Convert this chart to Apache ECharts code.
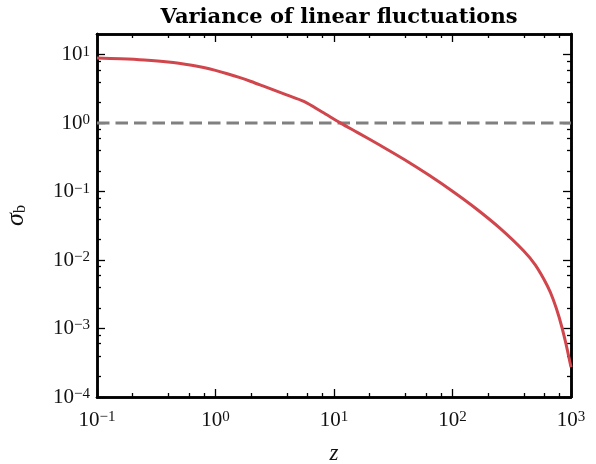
<!DOCTYPE html>
<html>
<head>
<meta charset="utf-8">
<script src="https://cdn.jsdelivr.net/npm/echarts@6/dist/echarts.min.js"></script>
<style>html,body{margin:0;padding:0;background:#fff;}#c{width:596px;height:464px;}</style>
</head>
<body>
<div id="c"></div>
<script>
// ---- data ----
var zValues = [0.1, 0.158, 0.251, 0.398, 0.631, 0.794, 1.0, 1.259, 1.585, 1.995, 2.512, 3.162, 3.981, 5.57, 7.94, 11.4, 15.85, 25.1, 39.8, 63.1, 100, 158.5, 251, 398, 501, 631, 708, 794, 891, 1000];
var sigmaValues = [8.91, 8.69, 8.34, 7.80, 7.00, 6.49, 5.89, 5.26, 4.65, 4.05, 3.49, 3.00, 2.58, 2.07, 1.452, 1.0, 0.726, 0.462, 0.289, 0.174, 0.101, 0.0561, 0.0292, 0.01365, 0.00841, 0.00422, 0.00266, 0.00146, 0.000684, 0.000272];
var refZ = [0.1, 1000];
var refSigma = [1, 1];
var xMajorTicks = [0.1, 1, 10, 100, 1000];
var yMajorTicks = [1e-4, 1e-3, 1e-2, 1e-1, 1, 10];
var minorMultipliers = [2, 4, 6, 8];
var titleText = 'Variance of linear fluctuations';

var X_MIN = 0.1, X_MAX = 1000, Y_MIN = 1e-4, Y_MAX = 20;

function minorTicks(majors, lo, hi) {
  var out = [];
  majors.forEach(function (m) {
    minorMultipliers.forEach(function (k) {
      var v = m * k;
      if (v > lo && v < hi) out.push(v);
    });
  });
  return out;
}
var xMinor = minorTicks(xMajorTicks, X_MIN, X_MAX);
var yMinor = minorTicks(yMajorTicks, Y_MIN, Y_MAX);

function powLabel(v) {
  var n = Math.round(Math.log(v) / Math.LN10);
  var e = n < 0 ? '\u2212' + (-n) : String(n);
  return '{b|10}{s|' + e + '}';
}
var rich = {
  b: { fontFamily: 'Liberation Serif', fontSize: 21, color: '#111' },
  s: { fontFamily: 'Liberation Serif', fontSize: 15, color: '#111', verticalAlign: 'top' }
};
var FRAME = { show: true, onZero: false, lineStyle: { color: '#000', width: 2.5 } };

function makeAxis(type, pos, min, max, ticks, len, withLabels) {
  var ax = {
    type: 'log', logBase: 10, min: min, max: max, position: pos,
    axisLine: FRAME,
    splitLine: { show: false },
    axisTick: { show: true, inside: true, length: len, customValues: ticks, lineStyle: { color: '#000', width: 1.3 } },
    axisLabel: { show: false }
  };
  if (withLabels) {
    ax.axisLabel = {
      show: true, customValues: ticks, formatter: powLabel, rich: rich,
      margin: type === 'x' ? 13 : 7, showMinLabel: true, showMaxLabel: true
    };
  }
  return ax;
}

var xAxes = [
  makeAxis('x', 'bottom', X_MIN, X_MAX, xMajorTicks, 8, true),
  makeAxis('x', 'bottom', X_MIN, X_MAX, xMinor, 4, false),
  makeAxis('x', 'top', X_MIN, X_MAX, xMajorTicks, 8, false),
  makeAxis('x', 'top', X_MIN, X_MAX, xMinor, 4, false)
];
xAxes[0].name = 'z';
xAxes[0].nameLocation = 'middle';
xAxes[0].nameGap = 45;
xAxes[0].nameTextStyle = { fontFamily: 'Liberation Serif', fontStyle: 'italic', fontSize: 23, color: '#111' };

var yAxes = [
  makeAxis('y', 'left', Y_MIN, Y_MAX, yMajorTicks, 8, true),
  makeAxis('y', 'left', Y_MIN, Y_MAX, yMinor, 4, false),
  makeAxis('y', 'right', Y_MIN, Y_MAX, yMajorTicks, 8, false),
  makeAxis('y', 'right', Y_MIN, Y_MAX, yMinor, 4, false)
];
yAxes[0].name = '{g|\u03c3}{sub|b}';
yAxes[0].nameLocation = 'middle';
yAxes[0].nameGap = 68;
yAxes[0].nameRotate = 90;
yAxes[0].nameTextStyle = {
  rich: {
    g: { fontFamily: 'Liberation Serif', fontStyle: 'italic', fontSize: 26, color: '#111' },
    sub: { fontFamily: 'Liberation Serif', fontSize: 16, color: '#111', verticalAlign: 'bottom' }
  }
};

var chart = echarts.init(document.getElementById('c'), null, { renderer: 'canvas' });
chart.setOption({
  animation: false,
  backgroundColor: '#fff',
  title: {
    text: titleText, left: 334, top: 2, textAlign: 'center',
    textStyle: { fontFamily: 'DejaVu Serif', fontWeight: 'bold', fontSize: 21, color: '#000' }
  },
  grid: { left: 97, right: 25, top: 34, bottom: 67, containLabel: false, outerBoundsMode: 'none' },
  xAxis: xAxes,
  yAxis: yAxes,
  series: [
    {
      type: 'line', xAxisIndex: 0, yAxisIndex: 0,
      data: refZ.map(function (z, i) { return [z, refSigma[i]]; }),
      showSymbol: false, symbol: 'none',
      lineStyle: { color: '#808080', width: 3, type: [12.5, 6] },
      z: 2
    },
    {
      type: 'line', xAxisIndex: 0, yAxisIndex: 0,
      data: zValues.map(function (z, i) { return [z, sigmaValues[i]]; }),
      showSymbol: false, symbol: 'none', smooth: 0.3,
      lineStyle: { color: '#d0464c', width: 3, join: 'round' },
      z: 3
    }
  ]
});
</script>
</body>
</html>
